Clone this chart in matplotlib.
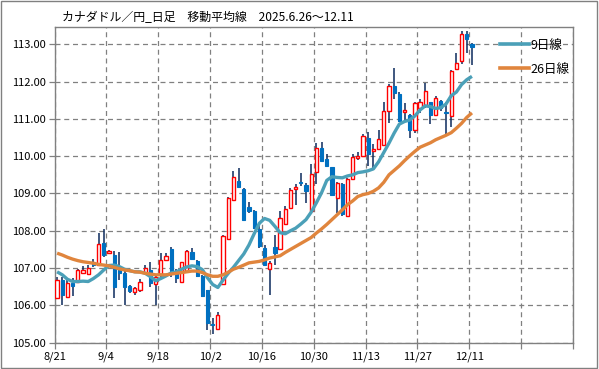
import numpy as np
import matplotlib
matplotlib.use('Agg')
import matplotlib.pyplot as plt
from matplotlib.patches import Rectangle
from matplotlib.lines import Line2D

plt.rcParams['font.family'] = ['Noto Sans CJK JP', 'DejaVu Sans']

# x tick labels, every 10 trading days
tickLabels = ['8/21', '9/4', '9/18', '10/2', '10/16', '10/30', '11/13', '11/27', '12/11', '', '']

# daily candles 8/21 .. 12/11
opens = [106.21, 106.68, 106.23, 106.59, 106.64, 106.88, 106.83, 107.15, 107.08, 107.68,
         107.40, 107.35, 107.04, 106.88, 106.52, 106.35, 106.40, 106.86, 106.95, 106.57,
         106.84, 107.23, 107.51, 106.92, 106.62, 106.92, 107.44, 107.19, 106.79, 106.40,
         105.49, 105.38, 106.58, 107.77, 108.82, 109.33, 109.13, 108.63, 108.53, 108.04,
         107.55, 106.98, 107.57, 107.51, 108.19, 108.61, 109.12, 109.31, 109.24, 108.52,
         109.58, 110.21, 109.92, 109.70, 108.89, 109.25, 108.39, 109.39, 109.95, 110.01,
         110.50, 110.15, 110.19, 110.30, 111.22, 111.87, 111.68, 111.19, 111.10, 110.70,
         111.30, 111.35, 111.44, 111.10, 111.47, 111.18, 111.08, 112.33, 112.55, 113.27,
         113.02]
highs = [106.77, 106.75, 106.68, 106.73, 106.98, 107.06, 107.08, 107.25, 107.93, 108.04,
         107.48, 107.46, 107.44, 106.95, 106.55, 106.50, 106.71, 107.08, 107.15, 106.82,
         107.40, 107.41, 107.57, 106.97, 107.16, 107.49, 107.53, 107.22, 106.82, 106.42,
         105.65, 105.81, 107.90, 108.90, 109.60, 109.69, 109.16, 108.76, 108.57, 108.16,
         107.62, 107.18, 107.90, 108.52, 108.66, 109.15, 109.25, 109.55, 109.28, 109.80,
         110.35, 110.37, 110.05, 109.72, 109.30, 109.28, 109.42, 110.07, 110.10, 110.59,
         110.66, 110.33, 110.70, 111.46, 111.94, 112.36, 111.71, 111.42, 111.12, 111.45,
         111.53, 111.96, 111.46, 111.60, 111.50, 111.46, 112.30, 112.77, 113.36, 113.36,
         113.03]
lows = [106.17, 106.01, 106.21, 106.26, 106.62, 106.85, 106.81, 107.02, 107.08, 107.30,
        107.38, 106.21, 106.68, 106.01, 106.34, 106.28, 106.37, 106.82, 106.48, 106.01,
        106.77, 107.20, 106.77, 106.61, 106.59, 106.90, 107.22, 106.77, 106.23, 105.34,
        105.22, 105.38, 106.55, 107.75, 108.80, 109.15, 108.26, 108.48, 108.04, 107.55,
        107.05, 106.27, 107.09, 107.49, 108.16, 108.58, 108.70, 109.19, 108.75, 108.50,
        109.25, 109.85, 109.70, 108.94, 108.49, 108.40, 108.37, 109.35, 109.90, 109.98,
        109.75, 109.66, 110.17, 110.28, 110.90, 111.52, 110.92, 110.94, 110.48, 110.62,
        111.16, 111.30, 110.86, 111.08, 111.20, 110.59, 110.77, 112.30, 112.48, 112.77,
        112.45]
closes = [106.68, 106.28, 106.59, 106.52, 106.95, 106.95, 107.01, 107.07, 107.64, 107.35,
          107.46, 106.48, 106.86, 106.50, 106.39, 106.46, 106.64, 106.99, 106.61, 106.77,
          107.23, 107.32, 106.91, 106.73, 107.16, 107.46, 107.24, 106.80, 106.26, 105.54,
          105.47, 105.73, 107.86, 108.88, 109.45, 109.18, 108.29, 108.52, 108.08, 107.60,
          107.08, 107.14, 107.40, 108.34, 108.59, 109.10, 109.17, 109.27, 109.06, 109.52,
          110.23, 109.88, 109.74, 108.96, 109.27, 108.45, 109.39, 109.97, 110.00, 110.53,
          110.06, 110.19, 110.46, 111.20, 111.87, 111.70, 110.95, 111.24, 110.70, 111.42,
          111.44, 111.74, 111.10, 111.55, 111.29, 111.15, 112.29, 112.50, 113.28, 113.13,
          112.94]

# moving averages as drawn (they include data from before 8/21)
ma9 = [106.90, 106.82, 106.70, 106.64, 106.64, 106.65, 106.64, 106.72, 106.82, 106.95,
       107.07, 107.08, 107.04, 106.97, 106.93, 106.90, 106.90, 106.86, 106.77, 106.66,
       106.72, 106.79, 106.87, 106.90, 106.97, 107.03, 107.06, 107.04, 106.96, 106.74,
       106.56, 106.48, 106.68, 106.86, 107.02, 107.20, 107.38, 107.62, 107.92, 108.20,
       108.33, 108.28, 108.12, 107.95, 107.92, 108.00, 108.07, 108.18, 108.30, 108.50,
       108.75, 109.02, 109.35, 109.45, 109.43, 109.42, 109.47, 109.50, 109.56, 109.58,
       109.61, 109.66, 109.85, 110.10, 110.35, 110.62, 110.86, 110.93, 110.97, 111.08,
       111.24, 111.35, 111.33, 111.28, 111.30, 111.40, 111.62, 111.72, 111.92, 112.05,
       112.14]
ma26 = [107.40, 107.35, 107.29, 107.24, 107.20, 107.17, 107.15, 107.13, 107.10, 107.08,
        107.06, 107.02, 106.98, 106.95, 106.93, 106.90, 106.89, 106.86, 106.84, 106.82,
        106.82, 106.82, 106.84, 106.86, 106.88, 106.90, 106.92, 106.92, 106.88, 106.82,
        106.78, 106.78, 106.82, 106.89, 106.97, 107.02, 107.08, 107.14, 107.16, 107.18,
        107.22, 107.27, 107.30, 107.33, 107.42, 107.50, 107.58, 107.66, 107.74, 107.82,
        107.94, 108.05, 108.17, 108.30, 108.43, 108.56, 108.70, 108.80, 108.92, 108.97,
        109.00, 109.06, 109.15, 109.30, 109.50, 109.62, 109.74, 109.88, 110.01, 110.13,
        110.24, 110.30, 110.36, 110.44, 110.50, 110.56, 110.63, 110.75, 110.88, 111.04,
        111.16]

o = np.array(opens)
h = np.array(highs)
l = np.array(lows)
c = np.array(closes)
x = np.arange(len(c))
up = c >= o

fig = plt.figure(figsize=(5.99, 3.69), dpi=100)
ax = fig.add_axes([0.091, 0.0713, 0.8657, 0.8542])

gray = '#808080'
# wicks
ax.vlines(x, l, h, color='#0b2a5c', lw=1.1, zorder=2)
# bodies
bodyLow = np.minimum(o, c)
bodyH = np.maximum(np.abs(c - o), 0.02)
ax.bar(x[up], bodyH[up], bottom=bodyLow[up], width=0.62, color='white',
       edgecolor='#ff0000', lw=1.0, zorder=3)
ax.bar(x[~up], bodyH[~up], bottom=bodyLow[~up], width=0.62, color='#0070c0',
       edgecolor='#0070c0', lw=0.8, zorder=3)

ax.plot(x, ma9, color='#4ba0b8', lw=2.4, zorder=4, solid_capstyle='butt')
ax.plot(x, ma26, color='#e0853d', lw=2.4, zorder=4, solid_capstyle='butt')

ax.set_xlim(-0.5, 99.5)
ax.set_ylim(105, 113.45)
ax.set_xticks(np.arange(0, 101, 10) - 0.5)
ax.set_xticklabels(tickLabels)
ax.set_yticks(np.arange(105, 114, 1))
ax.set_yticklabels(['%.2f' % v for v in np.arange(105, 114, 1)])
ax.grid(True, color=gray, ls=(0, (4, 3)), lw=0.9, zorder=1)
ax.tick_params(direction='out', length=4, width=0.9, color=gray, labelsize=8, pad=2)
for s in ax.spines.values():
    s.set_color(gray)
    s.set_linewidth(1.0)

# legend drawn in the upper right
handles = [Line2D([], [], color='#4ba0b8', lw=2.6), Line2D([], [], color='#e0853d', lw=2.6)]
leg = ax.legend(handles, ['9日線', '26日線'], loc='upper left', bbox_to_anchor=(0.86, 0.965),
                frameon=False, fontsize=9, handlelength=2.3, handletextpad=0.1,
                labelspacing=0.9, borderaxespad=0, borderpad=0)

fig.text(0.104, 0.953, 'カナダドル／円_日足　移動平均線　2025.6.26〜12.11', fontsize=8.6,
         va='center', ha='left')
fig.patches.append(Rectangle((0.002, 0.003), 0.995, 0.993, transform=fig.transFigure,
                             fill=False, edgecolor=gray, lw=1.0))

fig.savefig('out.png', dpi=100)
